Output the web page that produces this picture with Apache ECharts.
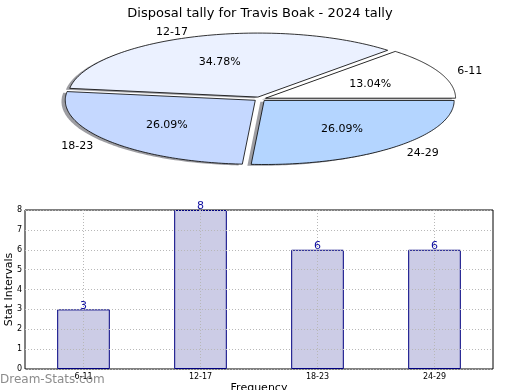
<!DOCTYPE html>
<html>
<head>
<meta charset="utf-8">
<script src="https://cdn.jsdelivr.net/npm/echarts@6/dist/echarts.min.js"></script>
<style>
html,body{margin:0;padding:0;background:#fff;}
#c{width:520px;height:390px;}
</style>
</head>
<body>
<div id="c"></div>
<script>
// ---- data ----
var titleText = 'Disposal tally for Travis Boak - 2024 tally';
var categories = ['6-11', '12-17', '18-23', '24-29'];
var counts = [3, 8, 6, 6];
var sliceColors = ['#ffffff', '#ebf1ff', '#c5d8ff', '#b4d5ff'];
var yAxisName = 'Stat Intervals';
var xAxisName = 'Frequency';
var watermark = 'Dream-Stats.com';

// ---- pie geometry (ellipse, matplotlib-like) ----
var PIE = {cx: 260, cy: 99, rx: 190, ry: 64, explode: 0.032, shadow: 0.02};
var total = counts.reduce(function (a, b) { return a + b; }, 0);
var cum = [0];
counts.forEach(function (v, i) { cum.push(cum[i] + v); });

function slicePoints(i, dx, dy) {
  var a0 = cum[i] / total * Math.PI * 2;
  var a1 = cum[i + 1] / total * Math.PI * 2;
  var mid = (a0 + a1) / 2;
  var ox = PIE.cx + PIE.explode * PIE.rx * Math.cos(mid) + dx;
  var oy = PIE.cy - PIE.explode * PIE.ry * Math.sin(mid) + dy;
  var pts = [[ox, oy]];
  var n = 90;
  for (var k = 0; k <= n; k++) {
    var a = a0 + (a1 - a0) * k / n;
    pts.push([ox + PIE.rx * Math.cos(a), oy - PIE.ry * Math.sin(a)]);
  }
  return {pts: pts, mid: mid, ox: ox, oy: oy};
}

var chart = echarts.init(document.getElementById('c'), null, {renderer: 'canvas'});
var FONT = 'DejaVu Sans';

var option = {
  animation: false,
  backgroundColor: '#ffffff',
  textStyle: {fontFamily: FONT},
  title: {
    text: titleText, left: 'center', top: 2,
    textStyle: {fontFamily: FONT, fontSize: 13, fontWeight: 'normal', color: '#000'}
  },
  grid: {left: 25, right: 27, top: 210, bottom: 21, show: true, borderColor: '#000', borderWidth: 1,
         containLabel: false, outerBoundsMode: 'none'},
  xAxis: {
    type: 'category', data: categories, z: 5,
    name: xAxisName, nameLocation: 'middle', nameGap: 14, nameMoveOverlap: false,
    nameTextStyle: {fontFamily: FONT, fontSize: 11, color: '#000'},
    axisLine: {show: false}, axisTick: {show: false},
    axisLabel: {fontFamily: FONT, fontSize: 8, color: '#000', margin: 4},
    splitLine: {show: true, alignWithLabel: true, lineStyle: {color: '#b8b8b8', type: [1, 2], width: 1}}
  },
  yAxis: {
    type: 'value', min: 0, max: 8, interval: 1, z: 5,
    name: yAxisName, nameLocation: 'middle', nameGap: 10, nameMoveOverlap: false,
    nameTextStyle: {fontFamily: FONT, fontSize: 11, color: '#000'},
    axisLine: {show: false}, axisTick: {show: false},
    axisLabel: {fontFamily: FONT, fontSize: 8, color: '#000', margin: 3},
    splitLine: {show: true, lineStyle: {color: '#b8b8b8', type: [1, 2], width: 1}}
  },
  graphic: [{
    type: 'text', left: 0, top: 374, z: 100,
    style: {text: watermark, fill: 'rgba(110,110,110,0.8)', font: '12px "DejaVu Sans"'}
  }],
  series: [
    {
      type: 'bar', data: counts, barWidth: '45%',
      itemStyle: {color: '#ccccE6', borderColor: '#000080', borderWidth: 1},
      label: {show: true, position: 'top', distance: -2, color: '#1010a0', fontFamily: FONT, fontSize: 11}
    },
    {
      type: 'custom', coordinateSystem: 'none', z: 1, silent: true,
      data: counts,
      renderItem: function (params, api) {
        var i = params.dataIndex;
        var s = slicePoints(i, -PIE.shadow * PIE.rx, PIE.shadow * PIE.ry);
        return {type: 'polygon', shape: {points: s.pts}, style: {fill: 'rgba(60,60,70,0.5)'}};
      }
    },
    {
      type: 'custom', coordinateSystem: 'none', z: 2, silent: true,
      data: counts,
      renderItem: function (params, api) {
        var i = params.dataIndex;
        var v = api.value(0);
        var s = slicePoints(i, 0, 0);
        var c = Math.cos(s.mid), sn = Math.sin(s.mid);
        var px = s.ox + 0.6 * PIE.rx * c, py = s.oy - 0.6 * PIE.ry * sn + 1;
        var lx = s.ox + 1.1 * PIE.rx * c, ly = s.oy - 1.1 * PIE.ry * sn + 1.5;
        return {
          type: 'group',
          children: [
            {type: 'polygon', shape: {points: s.pts},
             style: {fill: sliceColors[i], stroke: '#000', lineWidth: 0.8}},
            {type: 'text', x: px, y: py,
             style: {text: (v / total * 100).toFixed(2) + '%', fill: '#000',
                     font: '11px "DejaVu Sans"', align: 'center', verticalAlign: 'middle'}},
            {type: 'text', x: lx, y: ly,
             style: {text: categories[i], fill: '#000', font: '11px "DejaVu Sans"',
                     align: c >= 0 ? 'left' : 'right', verticalAlign: 'middle'}}
          ]
        };
      }
    }
  ]
};
chart.setOption(option);
</script>
</body>
</html>
